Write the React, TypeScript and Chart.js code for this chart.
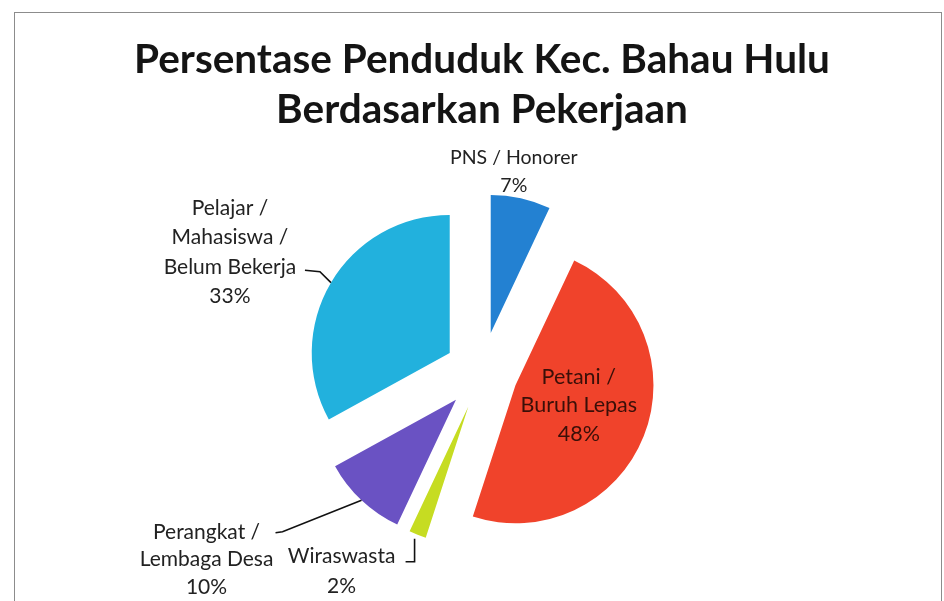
import React, { useEffect, useRef } from 'react';
import { Chart, registerables } from 'chart.js';

Chart.register(...registerables);

// ---- data ----
const categories = [
  'PNS / Honorer',
  'Petani / Buruh Lepas',
  'Wiraswasta',
  'Perangkat / Lembaga Desa',
  'Pelajar / Mahasiswa / Belum Bekerja',
];
const labelLines = [
  ['PNS / Honorer'],
  ['Petani /', 'Buruh Lepas'],
  ['Wiraswasta'],
  ['Perangkat /', 'Lembaga Desa'],
  ['Pelajar /', 'Mahasiswa /', 'Belum Bekerja'],
];
const percentages = [7, 48, 2, 10, 33];
const titleLines = ['Persentase Penduduk Kec. Bahau Hulu', 'Berdasarkan Pekerjaan'];

// ---- styling ----
const colors = ['#2381d2', '#f0432b', '#c6dc22', '#6a52c3', '#22b1dd'];
const explode = [40, 36, 37, 38, 37.5]; // px each slice is pulled out along its mid angle
const FONT = 'Lato';

// label placement relative to the slice's outer edge point (at mid angle)
type LabelStyle = {
  dx: number;
  dy: number;
  lineGap: number;
  size: number;
  color: string;
  leader: [number, number][];
};
const labelStyles: LabelStyle[] = [
  { dx: -7, dy: -27, lineGap: 28, size: 19.5, color: '#222', leader: [] },
  { dx: -65, dy: -31, lineGap: 28.5, size: 21.5, color: '#3a0f08', leader: [] },
  { dx: -76, dy: 37, lineGap: 30, size: 21, color: '#222', leader: [[-3, 4], [-3, 27], [-12, 27]] },
  { dx: -155, dy: 59, lineGap: 27.5, size: 21, color: '#222', leader: [[0, 0], [-79, 31.5], [-86, 32.5]] },
  { dx: -101, dy: -30.5, lineGap: 29.5, size: 21, color: '#222', leader: [[0, 0], [-11, -11], [-26, -12.5]] },
];

const explodePlugin = {
  id: 'explodedSlices',
  beforeDatasetDraw(chart: any, args: any) {
    const ctx = chart.ctx;
    args.meta.data.forEach((arc: any, i: number) => {
      const mid = (arc.startAngle + arc.endAngle) / 2;
      ctx.save();
      ctx.translate(Math.cos(mid) * explode[i], Math.sin(mid) * explode[i]);
      arc.draw(ctx, chart.chartArea);
      ctx.restore();
    });
    return false;
  },
};

const labelPlugin = {
  id: 'sliceLabels',
  afterDatasetsDraw(chart: any) {
    const ctx = chart.ctx;
    const meta = chart.getDatasetMeta(0);
    meta.data.forEach((arc: any, i: number) => {
      const mid = (arc.startAngle + arc.endAngle) / 2;
      const d = explode[i] + arc.outerRadius;
      const ex = arc.x + Math.cos(mid) * d;
      const ey = arc.y + Math.sin(mid) * d;
      const st = labelStyles[i];
      ctx.save();
      if (st.leader.length) {
        ctx.strokeStyle = '#111';
        ctx.lineWidth = 1.6;
        ctx.beginPath();
        st.leader.forEach(([lx, ly], k) => {
          if (k === 0) ctx.moveTo(ex + lx, ey + ly);
          else ctx.lineTo(ex + lx, ey + ly);
        });
        ctx.stroke();
      }
      const lines = [...labelLines[i], percentages[i] + '%'];
      ctx.fillStyle = st.color;
      ctx.font = `${st.size}px ${FONT}`;
      ctx.textAlign = 'center';
      ctx.textBaseline = 'middle';
      const tx = ex + st.dx;
      const ty0 = ey + st.dy - ((lines.length - 1) * st.lineGap) / 2;
      lines.forEach((ln, k) => ctx.fillText(ln, tx, ty0 + k * st.lineGap));
      ctx.restore();
    });
  },
};

export default function App() {
  const ref = useRef<HTMLCanvasElement | null>(null);
  useEffect(() => {
    document.body.style.margin = '0';
    const chart = new Chart(ref.current as HTMLCanvasElement, {
      type: 'pie',
      data: {
        labels: categories,
        datasets: [
          {
            data: percentages,
            backgroundColor: colors,
            borderWidth: 0,
            hoverOffset: 0,
            radius: 138,
          } as any,
        ],
      },
      options: {
        responsive: false,
        animation: false,
        events: [],
        layout: { padding: { left: 20, right: 0, top: 0, bottom: 7 } },
        plugins: {
          legend: { display: false },
          tooltip: { enabled: false },
          title: {
            display: true,
            text: titleLines,
            color: '#141414',
            font: { family: FONT, size: 40.5, weight: 'bold', lineHeight: 1.235 },
            padding: { top: 35, bottom: 15 },
          },
        },
      } as any,
      plugins: [explodePlugin, labelPlugin],
    });
    return () => chart.destroy();
  }, []);
  return (
    <div style={{ position: 'relative', width: 944, height: 601, overflow: 'hidden', background: '#fff' }}>
      <canvas ref={ref} width={944} height={601} style={{ display: 'block' }} />
      <div
        style={{
          position: 'absolute',
          left: 14,
          top: 12,
          width: 926,
          height: 700,
          border: '1.5px solid #8c8c8c',
          pointerEvents: 'none',
        }}
      />
    </div>
  );
}
